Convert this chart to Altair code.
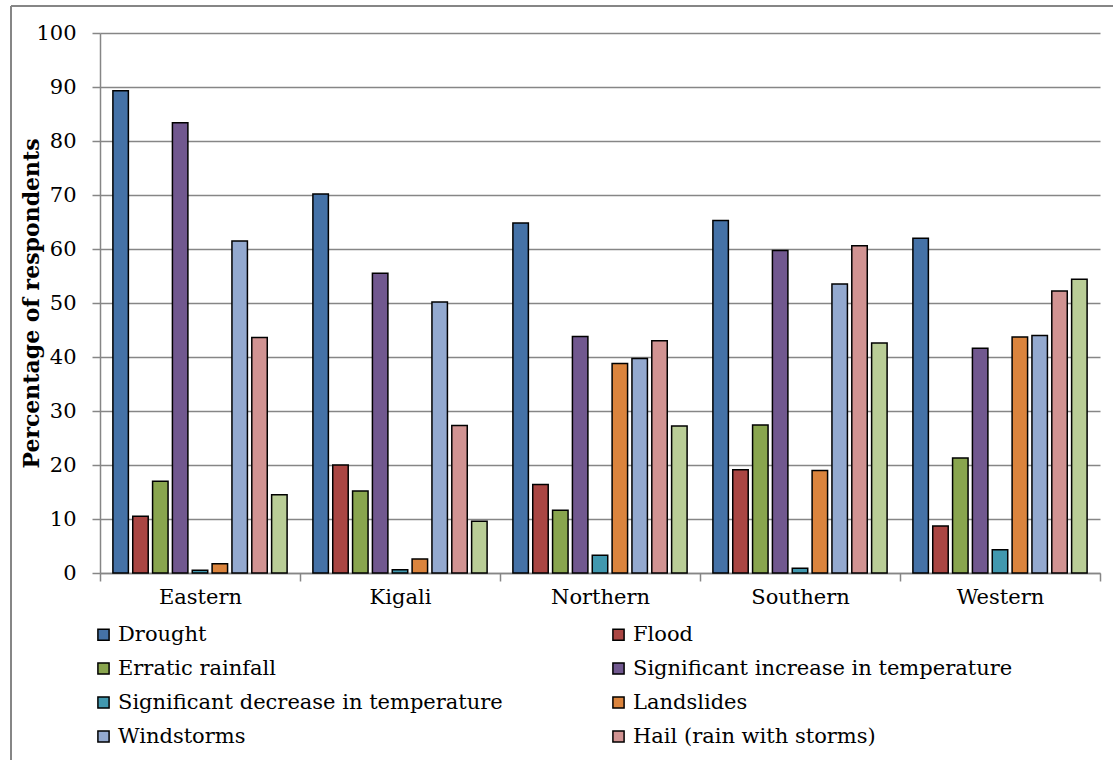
import altair as alt
import pandas as pd

# Regions (x categories) and hazards (bar series)
regions = ["Eastern", "Kigali", "Northern", "Southern", "Western"]
hazards = [
    "Drought",
    "Flood",
    "Erratic rainfall",
    "Significant increase in temperature",
    "Significant decrease in temperature",
    "Landslides",
    "Windstorms",
    "Hail (rain with storms)",
    "Other",
]

# Percentage of respondents per hazard, listed region by region
drought = [89.3, 70.2, 64.8, 65.3, 62.0]
flood = [10.5, 20.0, 16.4, 19.1, 8.7]
erratic_rainfall = [17.0, 15.2, 11.6, 27.4, 21.3]
temp_increase = [83.4, 55.5, 43.8, 59.7, 41.6]
temp_decrease = [0.5, 0.6, 3.3, 0.9, 4.3]
landslides = [1.7, 2.6, 38.8, 19.0, 43.7]
windstorms = [61.5, 50.2, 39.7, 53.5, 44.0]
hail = [43.6, 27.3, 43.0, 60.6, 52.2]
other = [14.5, 9.6, 27.2, 42.6, 54.4]

series = [drought, flood, erratic_rainfall, temp_increase, temp_decrease,
          landslides, windstorms, hail, other]

colors = ["#4572A7", "#AA4643", "#89A54E", "#71588F", "#4198AF",
          "#DB843D", "#93A9CF", "#D19392", "#B9CD96"]

# Legend lists the first eight hazards in two columns, read across the rows;
# the legend grid fills column by column, so entries are given in that order.
legend_values = [hazards[i] for i in (0, 2, 4, 6, 1, 3, 5, 7)]

rows = []
for hazard, values in zip(hazards, series):
    for region, v in zip(regions, values):
        rows.append({"Region": region, "Hazard": hazard, "Percent": v})
df = pd.DataFrame(rows)

FONT = "DejaVu Serif"
GRID = "#868686"

bars = alt.Chart(df).mark_bar(stroke="black", strokeWidth=1.5).encode(
    x=alt.X(
        "Region:N",
        sort=regions,
        scale=alt.Scale(paddingInner=0, paddingOuter=0),
        axis=alt.Axis(
            title=None,
            labelAngle=0,
            labelFont=FONT,
            labelFontSize=21,
            labelColor="black",
            labelPadding=5,
            tickBand="extent",
            tickSize=8,
            tickColor=GRID,
            tickWidth=1.5,
            domainColor=GRID,
            domainWidth=1.5,
        ),
    ),
    xOffset=alt.XOffset(
        "Hazard:N",
        sort=hazards,
        scale=alt.Scale(paddingInner=0.22, paddingOuter=0.65),
    ),
    y=alt.Y(
        "Percent:Q",
        scale=alt.Scale(domain=[0, 100], nice=False),
        axis=alt.Axis(
            title="Percentage of respondents",
            titleFont=FONT,
            titleFontSize=22,
            titleFontWeight="bold",
            titleColor="black",
            titleAngle=-90,
            titleX=-62,
            titleY=270,
            titleAlign="center",
            titleBaseline="alphabetic",
            values=list(range(0, 101, 10)),
            labelFont=FONT,
            labelFontSize=21,
            labelColor="black",
            labelPadding=16,
            tickSize=8,
            tickColor=GRID,
            tickWidth=1.5,
            grid=True,
            gridColor=GRID,
            gridWidth=1.5,
            domainColor=GRID,
            domainWidth=1.5,
        ),
    ),
    color=alt.Color(
        "Hazard:N",
        sort=hazards,
        scale=alt.Scale(domain=hazards, range=colors),
        legend=alt.Legend(
            title=None,
            values=legend_values,
            orient="none",
            legendX=-7,
            legendY=591,
            columns=2,
            columnPadding=105,
            rowPadding=12,
            padding=0,
            symbolType="square",
            symbolSize=125,
            symbolStrokeColor="black",
            symbolStrokeWidth=1.5,
            symbolOpacity=1,
            labelFont=FONT,
            labelFontSize=21,
            labelColor="black",
            labelOffset=4,
            labelLimit=600,
        ),
    ),
)

# Outer frame lines (top and left edges of the chart box)
frame_top = alt.Chart(df).mark_rule(color=GRID, strokeWidth=1.5).encode(
    x=alt.value(-89), x2=alt.value(1013), y=alt.value(-27)
)
frame_left = alt.Chart(df).mark_rule(color=GRID, strokeWidth=1.5).encode(
    x=alt.value(-89), y=alt.value(-27), y2=alt.value(727)
)

chart = alt.layer(bars, frame_top, frame_left).properties(
    width=1000,
    height=540,
    autosize=alt.AutoSizeParams(type="none"),
    padding={"left": 100, "top": 33, "right": 13, "bottom": 187},
    background="white",
).configure(
    font=FONT
).configure_view(
    stroke=None
).configure_legend(
    labelFont=FONT, labelFontSize=21, labelColor="black"
)

chart.save("out.html", embed_options={"renderer": "svg", "actions": False})
